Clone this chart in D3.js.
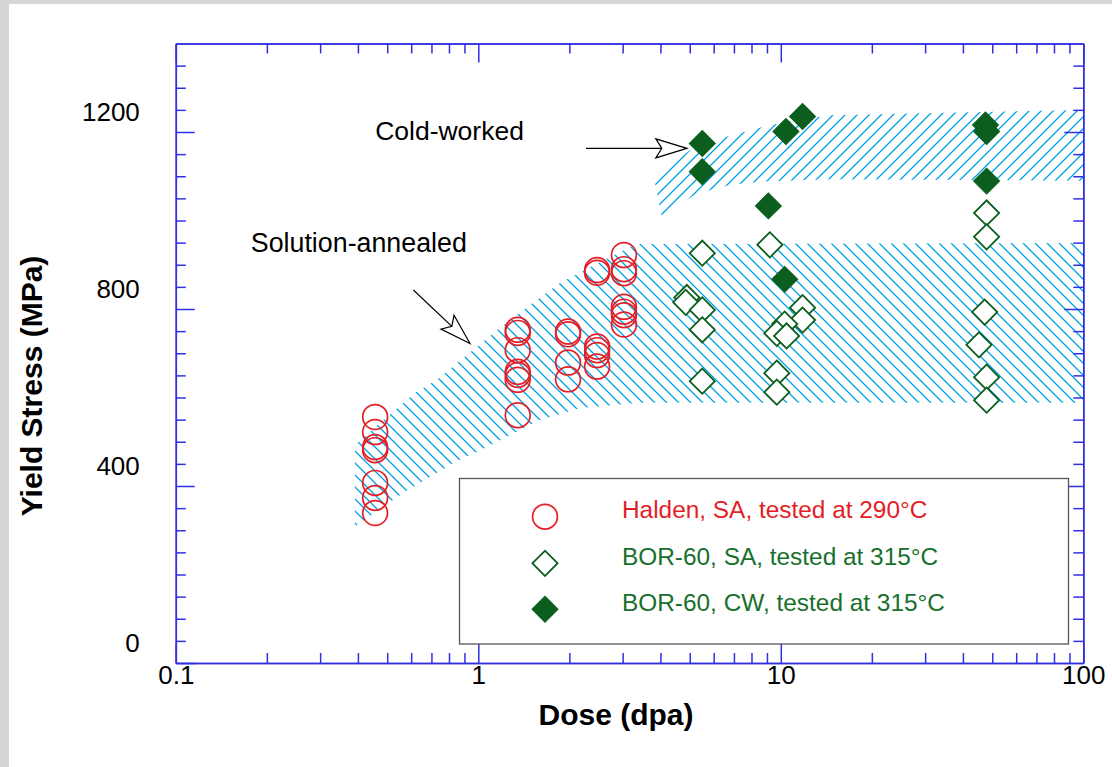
<!DOCTYPE html>
<html>
<head>
<meta charset="utf-8">
<script src="https://cdn.jsdelivr.net/npm/d3@7"></script>
<style>
  body { margin: 0; background: #d6d6d6; }
  svg { display: block; font-family: "Liberation Sans", Arial, sans-serif; }
</style>
</head>
<body>
<svg id="chart" width="1112" height="767"></svg>
<script>
// data (dose in dpa, yield stress in MPa)
var haldenSA = [
  [0.456, 556], [0.456, 522], [0.456, 488], [0.456, 481], [0.456, 407], [0.456, 373], [0.456, 339],
  [1.35, 753], [1.35, 746], [1.35, 707], [1.35, 658], [1.35, 651], [1.35, 640], [1.35, 560],
  [1.98, 749], [1.98, 743], [1.98, 679], [1.98, 641],
  [2.47, 888], [2.47, 882], [2.47, 715], [2.47, 707], [2.47, 696], [2.47, 670],
  [3.03, 922], [3.03, 890], [3.03, 881], [3.03, 805], [3.03, 794], [3.03, 786], [3.03, 765]
];
var bor60SA = [
  [4.89, 826], [4.85, 815], [5.5, 926], [5.5, 798], [5.5, 753], [5.5, 637],
  [9.2, 945], [11.8, 803], [11.8, 775], [10.3, 766], [9.7, 745], [10.45, 739], [9.7, 655], [9.7, 612],
  [47.9, 1017], [47.9, 963], [47.2, 793], [45.2, 719], [47.9, 646], [47.9, 594]
];
var bor60CW = [
  [5.5, 1174], [5.5, 1110], [10.4, 1201], [11.8, 1235], [9.1, 1033], [10.3, 867],
  [47.5, 1216], [47.9, 1201], [47.9, 1089]
];
// hatched trend bands
var saUpper = [[0.391, 493], [0.617, 610], [0.73, 640], [1.153, 752], [1.449, 804], [1.86, 859], [2.53, 906], [3.32, 947], [100, 949]];
var saLower = [[0.391, 308], [0.564, 384], [0.838, 454], [0.989, 477], [1.6, 549], [2.17, 576], [3.42, 588], [100, 588]];
var cwUpper = [[3.8, 1099], [5.01, 1159], [6.62, 1189], [9.21, 1216], [14.5, 1238], [100, 1250]];
var cwLower = [[4.04, 1010], [5.27, 1061], [6.79, 1080], [8.7, 1088], [14.5, 1093], [100, 1090]];

var xMajor = [0.1, 1, 10, 100];
var xMinor = [0.2, 0.3, 0.4, 0.5, 0.6, 0.7, 0.8, 0.9, 2, 3, 4, 5, 6, 7, 8, 9, 20, 30, 40, 50, 60, 70, 80, 90];
var yMajor = [0, 400, 800, 1200];
var yMinor = d3.range(50, 1400, 50).filter(function(v) { return v % 400 != 0; });

var legendLabels = ["Halden, SA, tested at 290°C", "BOR-60, SA, tested at 315°C", "BOR-60, CW, tested at 315°C"];

var plotL = 175.8, plotR = 1083.3, plotT = 43.5, plotB = 663;
var axisColor = "#3030e0", red = "#e41e26", green = "#0b5e1e", greenText = "#17702c", hatch = "#00a0e8";

var svg = d3.select("#chart");
svg.append("rect").attr("x", 9).attr("y", 4).attr("width", 1103).attr("height", 763).attr("fill", "#fff");

var x = d3.scaleLog().domain([0.1, 100]).range([plotL, plotR]);
var y = d3.scaleLinear().domain([0, 1400]).range([plotB, plotT]);

// hatch patterns: square tiles with a 45 degree line
var defs = svg.append("defs");
function makeHatch(id, backslash) {
  var s = 12;
  var d = backslash
    ? "M0,0L" + s + "," + s + "M-2," + (s - 2) + "L2," + (s + 2) + "M" + (s - 2) + ",-2L" + (s + 2) + ",2"
    : "M0," + s + "L" + s + ",0M-2,2L2,-2M" + (s - 2) + "," + (s + 2) + "L" + (s + 2) + "," + (s - 2);
  var p = defs.append("pattern").attr("id", id).attr("patternUnits", "userSpaceOnUse")
    .attr("width", s).attr("height", s);
  p.append("path").attr("d", d).attr("stroke", hatch).attr("stroke-width", 1.3);
}
makeHatch("hatchSA", true);
makeHatch("hatchCW", false);

var bandLine = d3.line().x(function(d) { return x(d[0]); }).y(function(d) { return y(d[1]); });
function band(upper, lower, fill) {
  var pts = upper.concat(lower.slice().reverse());
  svg.append("path").attr("d", bandLine(pts) + "Z").attr("fill", "url(#" + fill + ")");
}
band(saUpper, saLower, "hatchSA");
band(cwUpper, cwLower, "hatchCW");

// axes
function styleAxis(g) {
  g.select(".domain").attr("stroke", axisColor).attr("stroke-width", 1.5);
  g.selectAll(".tick line").attr("stroke", axisColor).attr("stroke-width", 1.5);
  g.selectAll("text").attr("fill", "#000").style("font-size", "26px")
    .style("font-family", "'Liberation Sans', Arial, sans-serif");
}
var fmtX = function(d) { return d; };
svg.append("g").attr("transform", "translate(0," + plotB + ")")
  .call(d3.axisBottom(x).tickValues(xMinor).tickSize(-10).tickSizeOuter(0).tickFormat(""))
  .call(styleAxis);
svg.append("g").attr("transform", "translate(0," + plotB + ")")
  .call(d3.axisBottom(x).tickValues(xMajor).tickSize(-19).tickSizeOuter(0).tickPadding(3).tickFormat(fmtX))
  .call(styleAxis);
svg.append("g").attr("transform", "translate(0," + plotT + ")")
  .call(d3.axisTop(x).tickValues(xMinor).tickSize(-10).tickSizeOuter(0).tickFormat(""))
  .call(styleAxis);
svg.append("g").attr("transform", "translate(0," + plotT + ")")
  .call(d3.axisTop(x).tickValues(xMajor).tickSize(-19).tickSizeOuter(0).tickFormat(""))
  .call(styleAxis);

svg.append("g").attr("transform", "translate(" + plotL + ",0)")
  .call(d3.axisLeft(y).tickValues(yMinor).tickSize(-10).tickSizeOuter(0).tickFormat(""))
  .call(styleAxis);
svg.append("g").attr("transform", "translate(" + plotL + ",0)")
  .call(d3.axisLeft(y).tickValues(yMajor).tickSize(-19).tickSizeOuter(0).tickPadding(36).tickFormat(d3.format("d")))
  .call(styleAxis)
  .selectAll("text").attr("y", -20);
svg.append("g").attr("transform", "translate(" + plotR + ",0)")
  .call(d3.axisRight(y).tickValues(yMinor).tickSize(-10).tickSizeOuter(0).tickFormat(""))
  .call(styleAxis);
svg.append("g").attr("transform", "translate(" + plotR + ",0)")
  .call(d3.axisRight(y).tickValues(yMajor.slice(1)).tickSize(-19).tickSizeOuter(0).tickFormat(""))
  .call(styleAxis);

// axis titles
svg.append("text").attr("x", 616).attr("y", 725).attr("text-anchor", "middle")
  .style("font-size", "30px").style("font-weight", "bold").text("Dose (dpa)");
svg.append("text").attr("transform", "translate(42,386) rotate(-90)").attr("text-anchor", "middle")
  .style("font-size", "30px").style("font-weight", "bold").text("Yield Stress (MPa)");

// markers
var circleSym = d3.symbol().type(d3.symbolCircle).size(Math.PI * 12.4 * 12.4);
var diamondSym = d3.symbol().type(d3.symbolSquare).size(2 * 12.6 * 12.6);
var diamondFill = d3.symbol().type(d3.symbolSquare).size(2 * 13 * 13);

svg.append("g").selectAll("path").data(haldenSA).join("path")
  .attr("d", circleSym)
  .attr("transform", function(d) { return "translate(" + x(d[0]) + "," + y(d[1]) + ")"; })
  .attr("fill", "none").attr("stroke", red).attr("stroke-width", 1.7);
svg.append("g").selectAll("path").data(bor60SA).join("path")
  .attr("d", diamondSym)
  .attr("transform", function(d) { return "translate(" + x(d[0]) + "," + y(d[1]) + ") rotate(45)"; })
  .attr("fill", "#fff").attr("stroke", green).attr("stroke-width", 1.8);
svg.append("g").selectAll("path").data(bor60CW).join("path")
  .attr("d", diamondFill)
  .attr("transform", function(d) { return "translate(" + x(d[0]) + "," + y(d[1]) + ") rotate(45)"; })
  .attr("fill", green).attr("stroke", green).attr("stroke-width", 1);

// annotations
function arrow(from, to) {
  var x1 = x(from[0]), y1 = y(from[1]), x2 = x(to[0]), y2 = y(to[1]);
  var dx = x2 - x1, dy = y2 - y1, len = Math.sqrt(dx * dx + dy * dy);
  var ux = dx / len, uy = dy / len, nx = -uy, ny = ux;
  var L = 31, W = 9.5, N = 25;
  svg.append("line").attr("x1", x1).attr("y1", y1).attr("x2", x2 - ux * N).attr("y2", y2 - uy * N)
    .attr("stroke", "#000").attr("stroke-width", 1.2);
  var head = [
    [x2, y2],
    [x2 - ux * L + nx * W, y2 - uy * L + ny * W],
    [x2 - ux * N, y2 - uy * N],
    [x2 - ux * L - nx * W, y2 - uy * L - ny * W]
  ];
  svg.append("path").attr("d", "M" + head.join("L") + "Z")
    .attr("fill", "#fff").attr("stroke", "#000").attr("stroke-width", 1.2);
}
svg.append("text").attr("x", x(0.456)).attr("y", y(1182)).style("font-size", "26.5px").text("Cold-worked");
svg.append("text").attr("x", x(0.177)).attr("y", y(929)).style("font-size", "26.8px").text("Solution-annealed");
arrow([2.27, 1163], [4.89, 1163]);
arrow([0.61, 843], [0.939, 722]);

// legend
var lg = svg.append("g");
lg.append("rect").attr("x", 459.5).attr("y", 478.5).attr("width", 609).attr("height", 165.5)
  .attr("fill", "#fff").attr("stroke", "#555").attr("stroke-width", 1.3);
var rows = [516.7, 563.3, 609.3];
lg.append("path").attr("d", circleSym).attr("transform", "translate(545," + rows[0] + ")")
  .attr("fill", "none").attr("stroke", red).attr("stroke-width", 1.7);
lg.append("path").attr("d", diamondSym).attr("transform", "translate(545," + rows[1] + ") rotate(45)")
  .attr("fill", "#fff").attr("stroke", green).attr("stroke-width", 1.8);
lg.append("path").attr("d", diamondFill).attr("transform", "translate(545," + rows[2] + ") rotate(45)")
  .attr("fill", green).attr("stroke", green).attr("stroke-width", 1);
lg.selectAll("text.lab").data(legendLabels).join("text").attr("class", "lab")
  .attr("x", 622).attr("y", function(d, i) { return rows[i] + 1.5; })
  .style("font-size", "24.4px")
  .attr("fill", function(d, i) { return i == 0 ? red : greenText; })
  .text(function(d) { return d; });
</script>
</body>
</html>
